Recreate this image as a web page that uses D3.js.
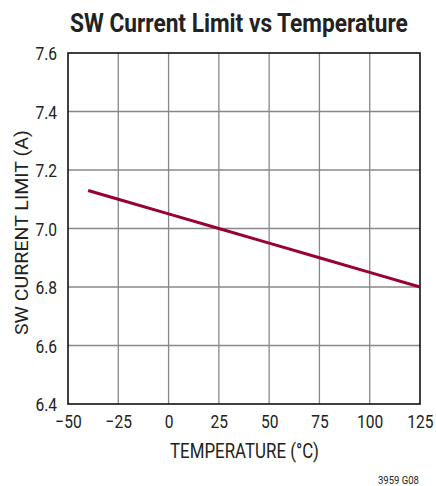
<!DOCTYPE html>
<html><head><meta charset="utf-8">
<script src="https://cdn.jsdelivr.net/npm/d3@7"></script>
<style>
body{margin:0;background:#fff;}
text{font-family:"Roboto","Liberation Sans",sans-serif;}
</style></head>
<body>
<svg id="c" width="436" height="486"></svg>
<script>
const temperature = [-40, -25, 0, 25, 50, 75, 100, 125];
const currentLimit = [7.13, 7.10, 7.05, 7.00, 6.95, 6.90, 6.85, 6.80];
const xTicks = [-50, -25, 0, 25, 50, 75, 100, 125];
const yTicks = [6.4, 6.6, 6.8, 7.0, 7.2, 7.4, 7.6];

const svg = d3.select("#c");
const m = {l:68, t:53, w:352, h:351};
const x = d3.scaleLinear().domain([-50,125]).range([m.l, m.l+m.w]);
const y = d3.scaleLinear().domain([6.4,7.6]).range([m.t+m.h, m.t]);
const F = 0.82;

// grid
const g = svg.append("g");
g.selectAll(".vx").data(xTicks.slice(1,-1)).enter().append("line")
  .attr("x1",d=>x(d)).attr("x2",d=>x(d)).attr("y1",m.t).attr("y2",m.t+m.h)
  .attr("stroke","#888").attr("stroke-width",1.3);
g.selectAll(".hy").data(yTicks.slice(1,-1)).enter().append("line")
  .attr("y1",d=>y(d)).attr("y2",d=>y(d)).attr("x1",m.l).attr("x2",m.l+m.w)
  .attr("stroke","#888").attr("stroke-width",1.3);
// frame
svg.append("rect").attr("x",m.l).attr("y",m.t).attr("width",m.w).attr("height",m.h)
  .attr("fill","none").attr("stroke","#111").attr("stroke-width",1.6);

// axes
const xa = svg.append("g").attr("transform",`translate(0,${m.t+m.h})`)
  .call(d3.axisBottom(x).tickValues(xTicks).tickSize(0)
    .tickFormat(d=>d<0? "\u2212"+Math.abs(d) : d));
xa.select(".domain").remove();
xa.selectAll("text").attr("font-size",19).attr("fill","#222")
  .style("font-family",'"Roboto",sans-serif')
  .attr("y",24).attr("dy",0).attr("transform",`scale(${F},1)`);

const ya = svg.append("g").attr("transform",`translate(${m.l},0)`)
  .call(d3.axisLeft(y).tickValues(yTicks).tickSize(0).tickFormat(d3.format(".1f")));
ya.select(".domain").remove();
ya.selectAll("text").attr("font-size",19).attr("fill","#222")
  .style("font-family",'"Roboto",sans-serif')
  .attr("x",-11/F).attr("dy","0.36em").attr("transform",`scale(${F},1)`);

// data line
svg.append("path").datum(temperature.map((t,i)=>[t,currentLimit[i]]))
  .attr("d", d3.line().x(d=>x(d[0])).y(d=>y(d[1])))
  .attr("fill","none").attr("stroke","#990033").attr("stroke-width",3);

// text helper: place text scaled horizontally to a target width
function fitText(tx, ty, rot, size, weight, width, str){
  const t = svg.append("text").attr("font-size",size).attr("font-weight",weight)
    .attr("fill","#222").text(str);
  const w = t.node().getComputedTextLength();
  t.attr("transform",`translate(${tx},${ty}) rotate(${rot}) scale(${width/w},1)`);
  return t;
}
fitText(70, 31.5, 0, 26, "bold", 338, "SW Current Limit vs Temperature");
fitText(170, 458, 0, 20, "normal", 149, "TEMPERATURE (°C)");
fitText(27.5, 335, -90, 19, "normal", 205, "SW CURRENT LIMIT (A)");
fitText(378, 484, 0, 10, "normal", 41, "3959 G08");
</script>
</body></html>
